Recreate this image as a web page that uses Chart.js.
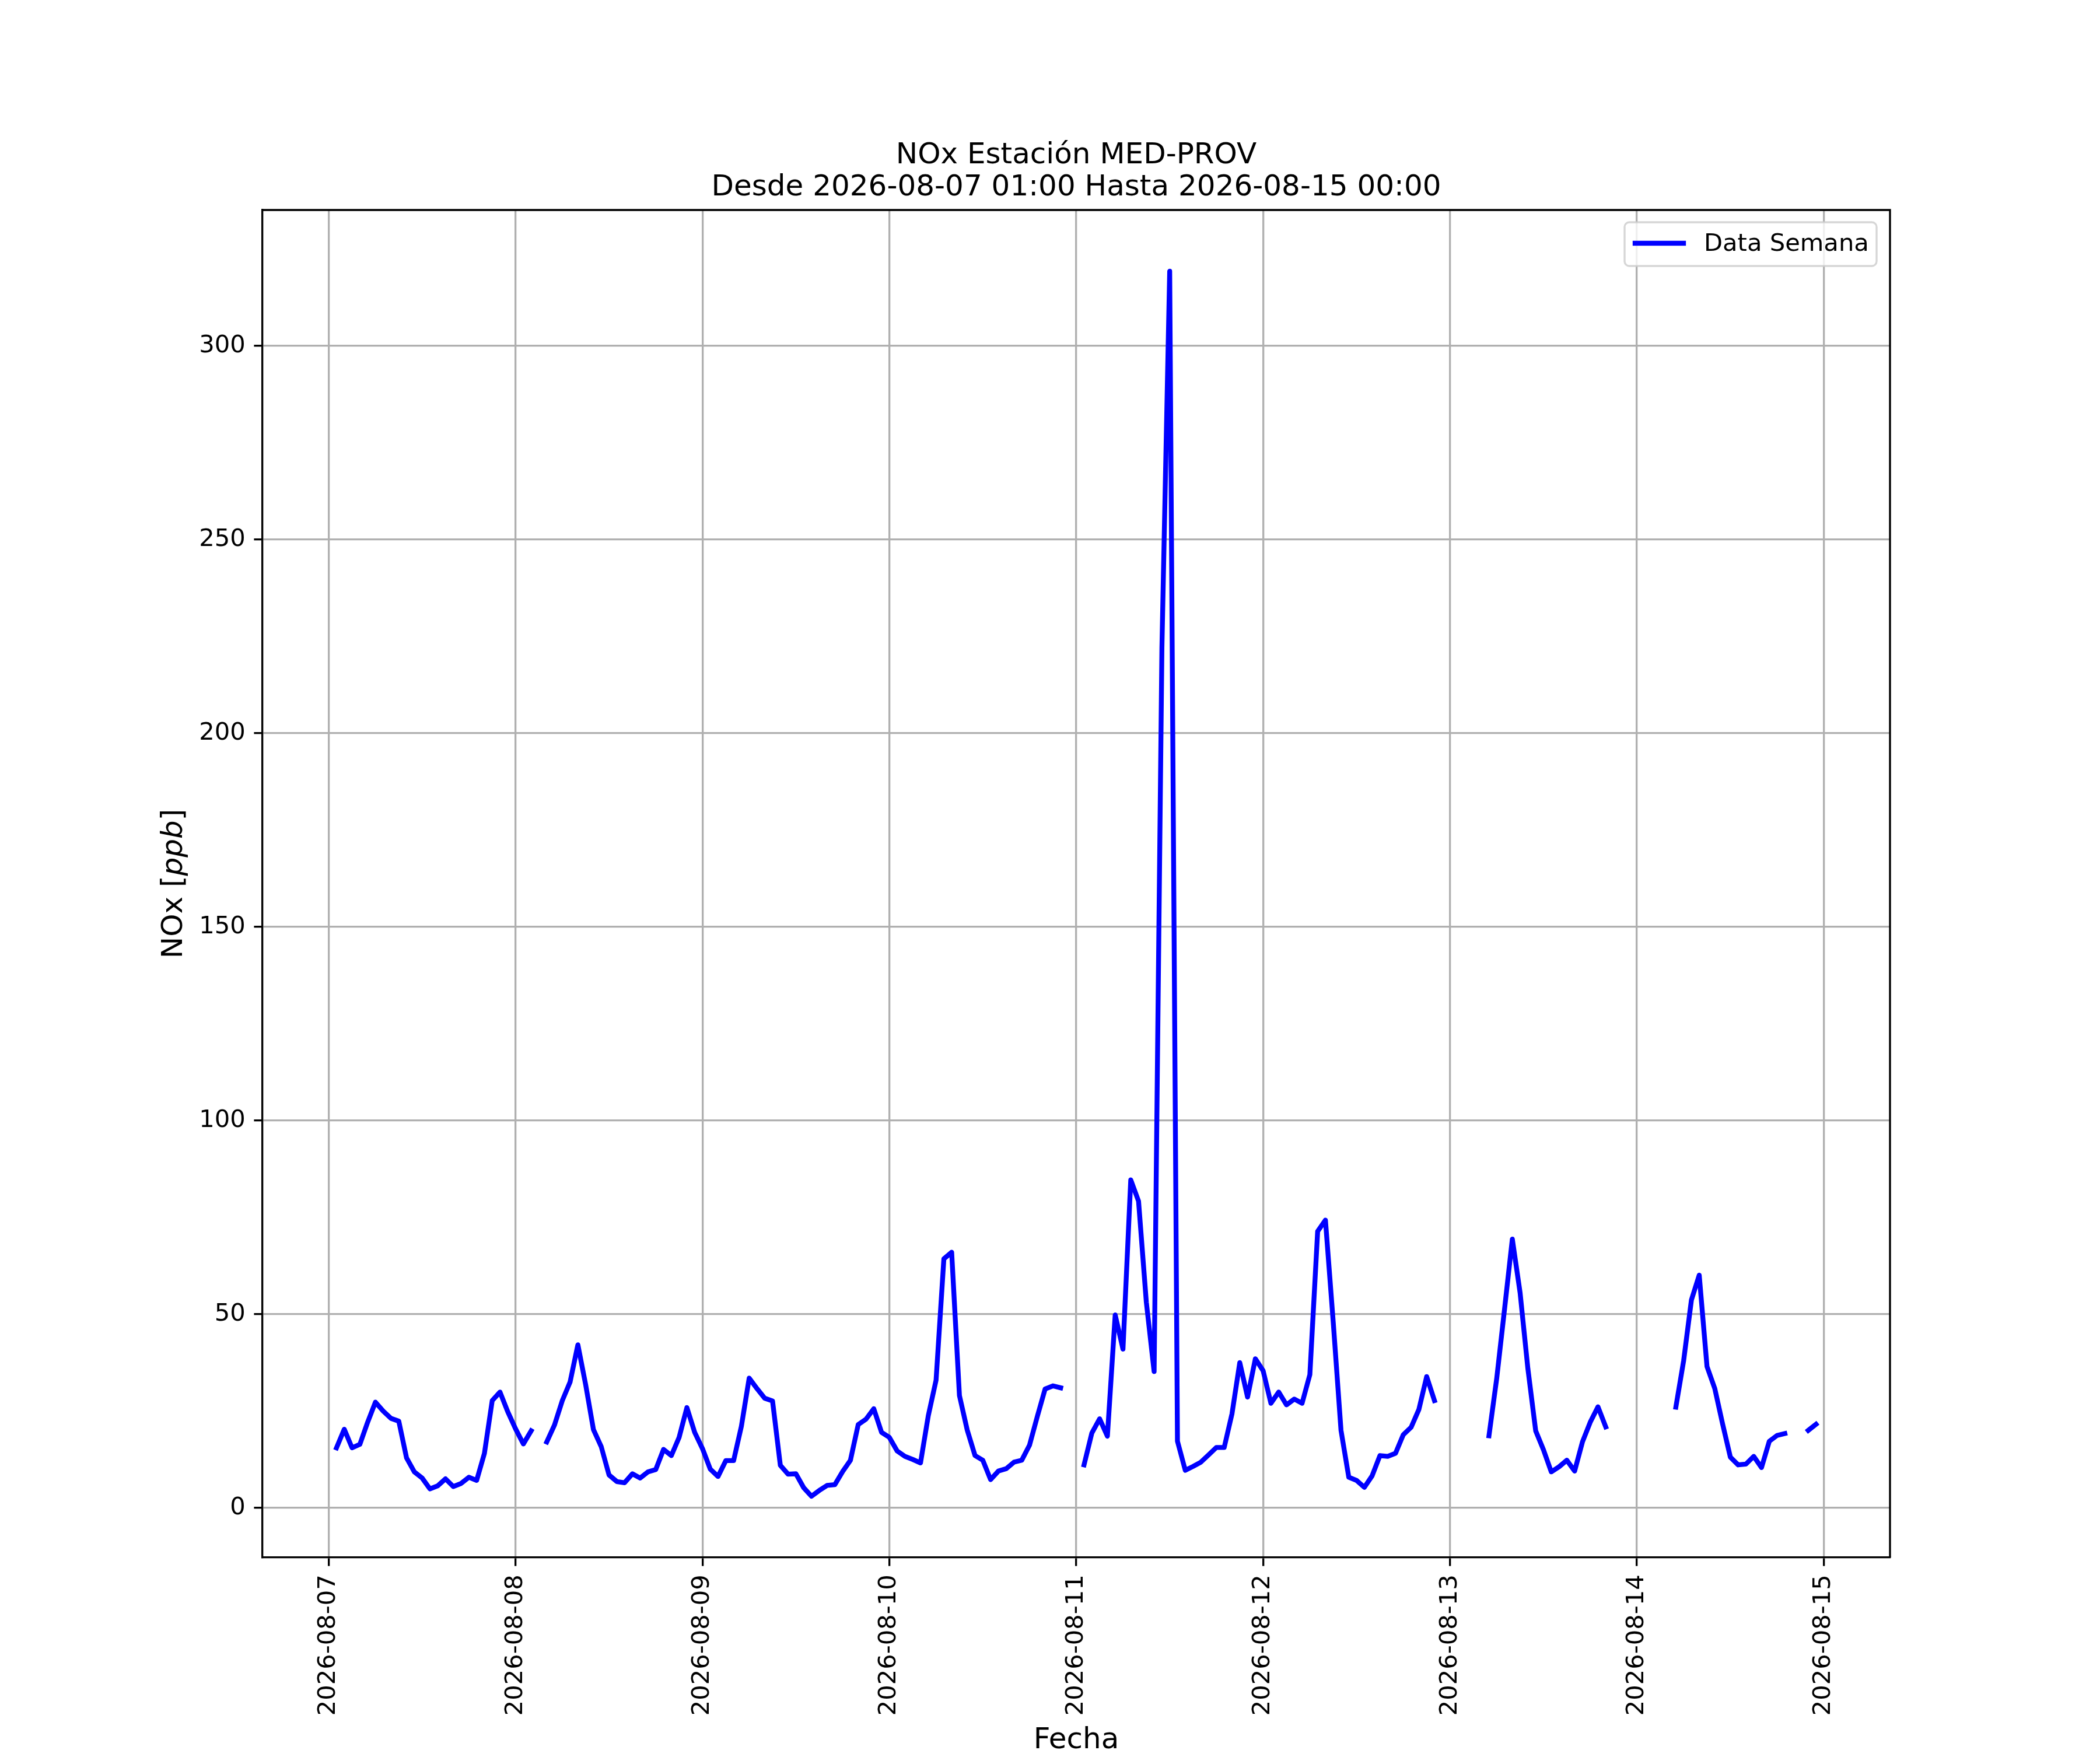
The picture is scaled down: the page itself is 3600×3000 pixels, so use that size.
<!DOCTYPE html>
<html>
<head>
<meta charset="utf-8">
<title>NOx Estación MED-PROV</title>
<script src="https://cdn.jsdelivr.net/npm/chart.js@4.4.1/dist/chart.umd.min.js"></script>
<style>
    html, body { margin: 0; padding: 0; background: #fff; }
    #noxChart { display: block; }
</style>
</head>
<body>
<canvas id="noxChart" width="3600" height="3000"></canvas>
<script>
const titleLines = ["NOx Estación MED-PROV", "Desde 2026-08-07 01:00 Hasta 2026-08-15 00:00"];
const xLabel = "Fecha";
const seriesLabel = "Data Semana";
const dayLabels = ["2026-08-07", "2026-08-08", "2026-08-09", "2026-08-10", "2026-08-11",
    "2026-08-12", "2026-08-13", "2026-08-14", "2026-08-15"];
const yTicks = [0, 50, 100, 150, 200, 250, 300];

// hourly values, first one is 2026-08-07 01:00 (hour 1 counted from 08-07 00:00)
const firstHour = 1;
const noxValues = [
    // 08-07 01:00 .. 08-08 00:00
    15.5, 20.3, 15.5, 16.4, 22.1, 27.3, 25.0, 23.1, 22.4, 12.9, 9.3, 7.7,
    4.9, 5.7, 7.5, 5.5, 6.3, 7.9, 7.1, 14.1, 27.7, 29.9, 24.8, 20.4,
    // 08-08
    16.5, 19.9, null, 17.0, 21.4, 27.7, 32.5, 42.1, 31.8, 20.2, 15.8, 8.5,
    6.8, 6.5, 8.8, 7.7, 9.3, 9.9, 15.1, 13.5, 18.2, 25.9, 19.5, 15.3,
    // 08-09
    10.0, 8.1, 12.2, 12.2, 21.1, 33.5, 30.8, 28.3, 27.6, 11.0, 8.7, 8.8,
    5.2, 3.0, 4.5, 5.8, 6.0, 9.4, 12.3, 21.5, 22.9, 25.6, 19.5, 18.2,
    // 08-10
    14.7, 13.3, 12.5, 11.6, 23.8, 33.0, 64.3, 66.0, 29.0, 20.1, 13.5, 12.3,
    7.3, 9.5, 10.1, 11.8, 12.3, 16.2, 23.6, 30.7, 31.5, 31.0, null, null,
    // 08-11
    11.1, 19.3, 23.0, 18.5, 49.8, 41.0, 84.7, 79.2, 53.1, 35.2, 222.0, 319.3,
    17.2, 9.7, 10.7, 11.8, 13.7, 15.6, 15.6, 24.3, 37.5, 28.6, 38.5, 35.4,
    // 08-12
    27.0, 29.9, 26.6, 28.1, 27.0, 34.4, 71.4, 74.3, 48.0, 20.0, 7.9, 7.1,
    5.3, 8.3, 13.5, 13.3, 14.1, 18.9, 20.8, 25.4, 33.9, 27.7, null, null,
    // 08-13
    null, null, null, null, 18.6, 33.5, 51.3, 69.4, 55.5, 35.9, 19.9, 15.0,
    9.3, 10.6, 12.3, 9.5, 17.0, 22.1, 26.1, 20.9, null, null, null, null,
    // 08-14
    null, null, null, null, 26.0, 38.0, 53.7, 60.1, 36.5, 30.8, 21.7, 13.1,
    11.1, 11.3, 13.3, 10.4, 17.2, 18.7, 19.2, null, null, 20.0, 21.6
];

const PT = 300 / 72; // matplotlib points -> px at 300 dpi
const FONT = "'DejaVu Sans', 'Liberation Sans', sans-serif";

const points = noxValues.map((v, i) => ({ x: firstHour + i, y: v }));

// autoscale with 5% margins like matplotlib
const lastHour = firstHour + noxValues.length - 1;
const xPad = (lastHour - firstHour) * 0.05;
const finite = noxValues.filter(v => v !== null);
const yLo = Math.min(...finite);
const yHi = Math.max(...finite);
const yPad = (yHi - yLo) * 0.05;

const mplDecor = {
    id: "mplDecor",
    afterDraw(chart) {
        const { ctx, chartArea: a } = chart;
        ctx.save();

        // top and right spines
        ctx.strokeStyle = "#000";
        ctx.lineWidth = 0.8 * PT;
        ctx.beginPath();
        ctx.moveTo(a.left, a.top);
        ctx.lineTo(a.right, a.top);
        ctx.lineTo(a.right, a.bottom);
        ctx.stroke();

        ctx.fillStyle = "#000";
        const cx = (a.left + a.right) / 2;

        // title
        ctx.font = `${12 * PT}px ${FONT}`;
        ctx.textAlign = "center";
        ctx.textBaseline = "alphabetic";
        ctx.fillText(titleLines[0], cx, 280);
        ctx.fillText(titleLines[1], cx, 335);

        // x label
        ctx.fillText(xLabel, cx, 2997);

        // y label: NOx [ppb] with ppb in italic
        const parts = [["NOx [", "normal"], ["ppb", "italic"], ["]", "normal"]];
        let total = 0;
        parts.forEach(p => {
            ctx.font = `${p[1]} ${12 * PT}px ${FONT}`;
            total += ctx.measureText(p[0]).width;
        });
        ctx.translate(312, (a.top + a.bottom) / 2);
        ctx.rotate(-Math.PI / 2);
        ctx.textAlign = "left";
        let px = -total / 2;
        parts.forEach(p => {
            ctx.font = `${p[1]} ${12 * PT}px ${FONT}`;
            ctx.fillText(p[0], px, 0);
            px += ctx.measureText(p[0]).width;
        });
        ctx.setTransform(1, 0, 0, 1, 0, 0);

        // legend box (upper right)
        const lx0 = 2785, ly0 = 381, lx1 = 3217, ly1 = 456;
        ctx.beginPath();
        ctx.roundRect(lx0, ly0, lx1 - lx0, ly1 - ly0, 8);
        ctx.fillStyle = "rgba(255,255,255,0.8)";
        ctx.fill();
        ctx.strokeStyle = "rgba(204,204,204,0.8)";
        ctx.lineWidth = 0.8 * PT;
        ctx.stroke();

        ctx.strokeStyle = "#0000ff";
        ctx.lineWidth = 2 * PT;
        ctx.lineCap = "square";
        ctx.beginPath();
        ctx.moveTo(2803, 417);
        ctx.lineTo(2886, 417);
        ctx.stroke();

        ctx.fillStyle = "#000";
        ctx.font = `${10 * PT}px ${FONT}`;
        ctx.textAlign = "left";
        ctx.fillText(chart.data.datasets[0].label, 2921, 430);

        ctx.restore();
    }
};

const canvas = document.getElementById("noxChart");
new Chart(canvas.getContext("2d"), {
    type: "line",
    data: {
        datasets: [
            {
                label: seriesLabel,
                data: points,
                borderColor: "#0000ff",
                borderWidth: 2 * PT,
                borderCapStyle: "square",
                borderJoinStyle: "round",
                pointRadius: 0,
                tension: 0,
                spanGaps: false,
                fill: false,
            },
        ],
    },
    options: {
        responsive: false,
        devicePixelRatio: 1,
        animation: false,
        layout: { padding: { top: 360, right: 360, bottom: 0, left: 0 } },
        plugins: {
            legend: { display: false },
            title: { display: false },
            tooltip: { enabled: false },
        },
        scales: {
            x: {
                type: "linear",
                min: firstHour - xPad,
                max: lastHour + xPad,
                afterBuildTicks: (scale) => {
                    scale.ticks = dayLabels.map((d, i) => ({ value: i * 24 }));
                },
                afterFit: (scale) => { scale.height = 330; },
                ticks: {
                    autoSkip: false,
                    minRotation: 90,
                    maxRotation: 90,
                    padding: 3.5 * PT,
                    color: "#000",
                    font: { family: FONT, size: 10 * PT },
                    callback: (value) => dayLabels[Math.round(value / 24)],
                },
                grid: {
                    color: "#b0b0b0",
                    lineWidth: 0.8 * PT,
                    tickLength: 3.5 * PT,
                    tickColor: "#000",
                    tickWidth: 0.8 * PT,
                },
                border: { display: true, color: "#000", width: 0.8 * PT },
            },
            y: {
                type: "linear",
                min: yLo - yPad,
                max: yHi + yPad,
                afterBuildTicks: (scale) => {
                    scale.ticks = yTicks.map(v => ({ value: v }));
                },
                afterFit: (scale) => { scale.width = 450; },
                ticks: {
                    padding: 3.5 * PT,
                    color: "#000",
                    font: { family: FONT, size: 10 * PT },
                    callback: (value) => String(value),
                },
                grid: {
                    color: "#b0b0b0",
                    lineWidth: 0.8 * PT,
                    tickLength: 3.5 * PT,
                    tickColor: "#000",
                    tickWidth: 0.8 * PT,
                },
                border: { display: true, color: "#000", width: 0.8 * PT },
            },
        },
    },
    plugins: [mplDecor],
});
</script>
</body>
</html>
